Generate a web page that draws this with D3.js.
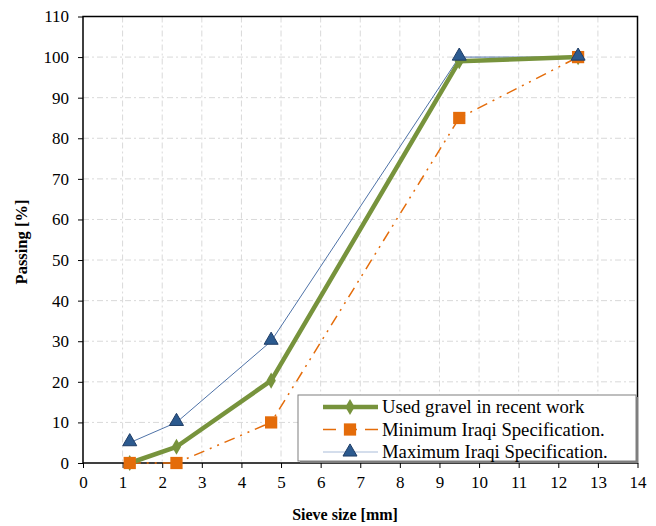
<!DOCTYPE html>
<html>
<head>
<meta charset="utf-8">
<script src="https://cdn.jsdelivr.net/npm/d3@7"></script>
<style>
body { margin: 0; background: #fff; }
</style>
</head>
<body>
<svg id="svg1" width="656" height="526"></svg>
<script>
var width = 656;
var height = 526;
var serif = "'Liberation Serif', 'Times New Roman', Times, 'DejaVu Serif', serif";

// sieve sizes in mm and passing percentages
var sieveSizes = [1.18, 2.36, 4.75, 9.5, 12.5];
var usedGravel = [0, 4, 20.3, 99, 100];
var minSpec = [0, 0, 10, 85, 100];
var maxSpec = [5, 10, 30, 100, 100];
var xTicks = [0, 1, 2, 3, 4, 5, 6, 7, 8, 9, 10, 11, 12, 13, 14];
var yTicks = [0, 10, 20, 30, 40, 50, 60, 70, 80, 90, 100, 110];
var seriesNames = ['Used gravel in recent work', 'Minimum Iraqi Specification.', 'Maximum Iraqi Specification.'];

var marginLeft = 83;
var marginTop = 16.5;
var plotW = 637.5 - marginLeft;
var plotH = 463 - marginTop;

var svg = d3.select('#svg1');
var g = svg.append('g')
    .attr('transform', 'translate(' + marginLeft + ',' + marginTop + ')');

var x = d3.scaleLinear().domain([0, 14]).range([0, plotW]);
var y = d3.scaleLinear().domain([0, 110]).range([plotH, 0]);

// grid
g.selectAll('.vgrid')
    .data(xTicks.slice(1, -1))
    .enter()
    .append('line')
    .attr('x1', function(d){ return x(d); })
    .attr('x2', function(d){ return x(d); })
    .attr('y1', 0)
    .attr('y2', plotH)
    .attr('stroke', '#d9d9d9')
    .attr('stroke-width', 1)
    .attr('stroke-dasharray', '6,3,2,3');

g.selectAll('.hgrid')
    .data(yTicks.slice(1, -1))
    .enter()
    .append('line')
    .attr('x1', 0)
    .attr('x2', plotW)
    .attr('y1', function(d){ return y(d); })
    .attr('y2', function(d){ return y(d); })
    .attr('stroke', '#d9d9d9')
    .attr('stroke-width', 1)
    .attr('stroke-dasharray', '6,3,2,3');

// axes
var xAxis = g.append('g')
    .attr('transform', 'translate(0,' + plotH + ')')
    .call(d3.axisBottom(x).tickValues(xTicks).tickSize(5).tickPadding(8));
var yAxis = g.append('g')
    .call(d3.axisLeft(y).tickValues(yTicks).tickSize(5).tickPadding(9));

[xAxis, yAxis].forEach(function(a){
    a.attr('font-family', null);
    a.select('.domain').remove();
    a.selectAll('line').attr('stroke', '#000');
    a.selectAll('text')
        .style('font-family', serif)
        .style('font-size', '17px')
        .attr('fill', '#000');
});

// frame
g.append('rect')
    .attr('x', 0)
    .attr('y', 0)
    .attr('width', plotW)
    .attr('height', plotH)
    .attr('fill', 'none')
    .attr('stroke', '#000')
    .attr('stroke-width', 1.5);

function pts(vals) {
    return vals.map(function(v, i){ return [sieveSizes[i], v]; });
}

var line = d3.line()
    .x(function(d){ return x(d[0]); })
    .y(function(d){ return y(d[1]); });

// max spec (blue thin, triangles)
g.append('path')
    .datum(pts(maxSpec))
    .attr('d', line)
    .attr('fill', 'none')
    .attr('stroke', '#4f73a8')
    .attr('stroke-width', 1);

// min spec (orange dash dot dot, squares)
g.append('path')
    .datum(pts(minSpec))
    .attr('d', line)
    .attr('fill', 'none')
    .attr('stroke', '#e46c0a')
    .attr('stroke-width', 1.5)
    .attr('stroke-dasharray', '11,6,2,6,2,6');

// used gravel (green thick, diamonds)
g.append('path')
    .datum(pts(usedGravel))
    .attr('d', line)
    .attr('fill', 'none')
    .attr('stroke', '#77933c')
    .attr('stroke-width', 4.5)
    .attr('stroke-linejoin', 'round');

var diamond = d3.symbol().type(d3.symbolDiamond).size(75);
var square = d3.symbol().type(d3.symbolSquare).size(150);
var triangle = d3.symbol().type(d3.symbolTriangle).size(85);

g.selectAll('.usedMark')
    .data(pts(usedGravel))
    .enter()
    .append('path')
    .attr('d', diamond)
    .attr('transform', function(d){ return 'translate(' + x(d[0]) + ',' + y(d[1]) + ')'; })
    .attr('fill', '#77933c');

g.selectAll('.minMark')
    .data(pts(minSpec))
    .enter()
    .append('path')
    .attr('d', square)
    .attr('transform', function(d){ return 'translate(' + x(d[0]) + ',' + y(d[1]) + ')'; })
    .attr('fill', '#e46c0a');

g.selectAll('.maxMark')
    .data(pts(maxSpec))
    .enter()
    .append('path')
    .attr('d', triangle)
    .attr('transform', function(d){ return 'translate(' + x(d[0]) + ',' + (y(d[1]) - 1) + ')'; })
    .attr('fill', '#2c5a8f')
    .attr('stroke', '#1f3d66')
    .attr('stroke-width', 1);

// legend
var leg = svg.append('g').attr('transform', 'translate(298,395)');
leg.append('rect')
    .attr('x', 2)
    .attr('y', 2)
    .attr('width', 338)
    .attr('height', 66)
    .attr('fill', '#7f7f7f');
leg.append('rect')
    .attr('width', 338)
    .attr('height', 66)
    .attr('fill', '#fff')
    .attr('stroke', '#7f7f7f')
    .attr('stroke-width', 1);

var legRows = leg.selectAll('.row')
    .data(seriesNames)
    .enter()
    .append('g')
    .attr('transform', function(d, i){ return 'translate(0,' + (12 + i * 22.5) + ')'; });

legRows.append('line')
    .attr('x1', 25)
    .attr('x2', 80)
    .attr('y1', 0)
    .attr('y2', 0)
    .attr('stroke', function(d, i){ return ['#77933c', '#e46c0a', '#a9bcd9'][i]; })
    .attr('stroke-width', function(d, i){ return [4.5, 1.5, 1][i]; })
    .attr('stroke-dasharray', function(d, i){ return i == 1 ? '13,8' : null; });

legRows.append('path')
    .attr('d', function(d, i){ return [diamond, square, triangle][i](); })
    .attr('transform', 'translate(52,0)')
    .attr('fill', function(d, i){ return ['#77933c', '#e46c0a', '#2c5a8f'][i]; })
    .attr('stroke', function(d, i){ return i == 2 ? '#1f3d66' : 'none'; });

legRows.append('text')
    .attr('x', 84)
    .attr('y', 6)
    .style('font-family', serif)
    .style('font-size', '18.7px')
    .attr('fill', '#000')
    .text(function(d){ return d; });

// axis titles
svg.append('text')
    .attr('x', 345)
    .attr('y', 520)
    .attr('text-anchor', 'middle')
    .style('font-family', serif)
    .style('font-size', '16px')
    .style('font-weight', 'bold')
    .text('Sieve size [mm]');

svg.append('text')
    .attr('transform', 'translate(27,242) rotate(-90)')
    .attr('text-anchor', 'middle')
    .style('font-family', serif)
    .style('font-size', '16.5px')
    .style('font-weight', 'bold')
    .text('Passing [%]');
</script>
</body>
</html>
